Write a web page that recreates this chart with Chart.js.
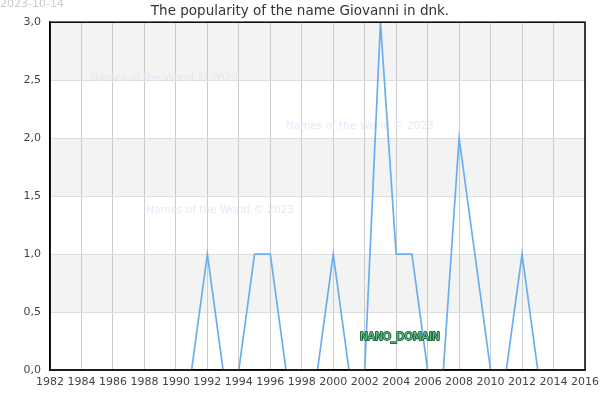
<!DOCTYPE html>
<html>
<head>
<meta charset="utf-8">
<script src="https://cdn.jsdelivr.net/npm/chart.js@4.4.0/dist/chart.umd.min.js"></script>
<style>
html,body{margin:0;padding:0;background:#fff;}
#wrap{width:600px;height:400px;position:relative;}
</style>
</head>
<body>
<div id="wrap"><canvas id="c" width="600" height="400"></canvas></div>
<script>
const years = [1982,1983,1984,1985,1986,1987,1988,1989,1990,1991,1992,1993,1994,1995,1996,1997,1998,1999,2000,2001,2002,2003,2004,2005,2006,2007,2008,2009,2010,2011,2012,2013,2014,2015,2016];
const counts = [0,0,0,0,0,0,0,0,0,0,1,0,0,1,1,0,0,0,1,0,0,3,1,1,0,0,2,1,0,0,1,0,0,0,0];
const titleText = 'The popularity of the name Giovanni in dnk.';
const dateText = '2023-10-14';
const watermarkText = 'Names of the World © 2023';
const domainText = 'NANO_DOMAIN';

const FONT = '"DejaVu Sans", sans-serif';

const decor = {
  id: 'decor',
  beforeDraw(chart) {
    const {ctx, chartArea: a, scales: {y}} = chart;
    ctx.save();
    for (let v = 0; v < 3; v += 0.5) {
      const idx = Math.round(v * 2);
      if (idx % 2 === 1) {
        const top = y.getPixelForValue(v + 0.5), bot = y.getPixelForValue(v);
        ctx.fillStyle = '#f3f3f3';
        ctx.fillRect(a.left, top, a.right - a.left, bot - top);
      }
    }
    ctx.restore();
  },
  beforeDatasetsDraw(chart) {
    const {ctx, chartArea: a} = chart;
    ctx.save();
    ctx.font = '10.5px ' + FONT;
    ctx.fillStyle = 'rgba(225,225,250,0.8)';
    ctx.textAlign = 'center';
    ctx.textBaseline = 'middle';
    const W = a.right - a.left, H = a.bottom - a.top;
    ctx.fillText(watermarkText, a.left + W * 0.213, a.top + H * 0.161);
    ctx.fillText(watermarkText, a.left + W * 0.579, a.top + H * 0.299);
    ctx.fillText(watermarkText, a.left + W * 0.318, a.top + H * 0.540);
    ctx.restore();
  },
  afterDraw(chart) {
    const {ctx, chartArea: a} = chart;
    ctx.save();
    ctx.strokeStyle = '#000';
    ctx.lineWidth = 1.5;
    ctx.strokeRect(a.left, a.top, a.right - a.left, a.bottom - a.top);
    ctx.font = '11px ' + FONT;
    ctx.fillStyle = '#cccccc';
    ctx.textAlign = 'left';
    ctx.textBaseline = 'middle';
    ctx.fillText(dateText, 0, 4);
    const W = a.right - a.left, H = a.bottom - a.top;
    ctx.font = '10.5px ' + FONT;
    ctx.textAlign = 'center';
    ctx.lineWidth = 2;
    ctx.strokeStyle = '#1e6b40';
    ctx.lineJoin = 'round';
    const dx = a.left + W * 0.654, dy = a.top + H * 0.907;
    ctx.strokeText(domainText, dx, dy);
    ctx.fillStyle = '#6cc08e';
    ctx.fillText(domainText, dx, dy);
    ctx.restore();
  }
};

new Chart(document.getElementById('c'), {
  type: 'line',
  data: {
    datasets: [{
      data: years.map((yr, i) => ({x: yr, y: counts[i]})),
      borderColor: '#6aaef2',
      borderWidth: 1.7,
      pointRadius: 0,
      tension: 0,
      fill: false
    }]
  },
  options: {
    responsive: false,
    animation: false,
    events: [],
    layout: {padding: {left: 0, right: 0, top: 0, bottom: 0}},
    plugins: {
      legend: {display: false},
      tooltip: {enabled: false},
      title: {
        display: true,
        text: titleText,
        color: '#333',
        font: {family: FONT, size: 13.5, weight: 'normal'},
        padding: {top: 3, bottom: 3}
      }
    },
    scales: {
      x: {
        type: 'linear',
        min: 1982, max: 2016,
        ticks: {
          stepSize: 2,
          color: '#444',
          font: {family: FONT, size: 11},
          padding: 6,
          maxRotation: 0,
          autoSkip: false,
          callback: v => String(v)
        },
        grid: {color: '#cccccc', lineWidth: 1, drawTicks: false},
        border: {color: '#000', width: 1.5},
        afterFit(s) { s.height = 30; s.paddingRight = 15; s.paddingLeft = 0; }
      },
      y: {
        min: 0, max: 3,
        ticks: {
          stepSize: 0.5,
          color: '#444',
          font: {family: FONT, size: 11},
          padding: 9,
          callback: v => v.toFixed(1).replace('.', ',')
        },
        grid: {color: '#dddddd', lineWidth: 1, drawTicks: false},
        border: {color: '#000', width: 1.5},
        afterFit(s) { s.width = 50; }
      }
    }
  },
  plugins: [decor]
});
</script>
</body>
</html>
